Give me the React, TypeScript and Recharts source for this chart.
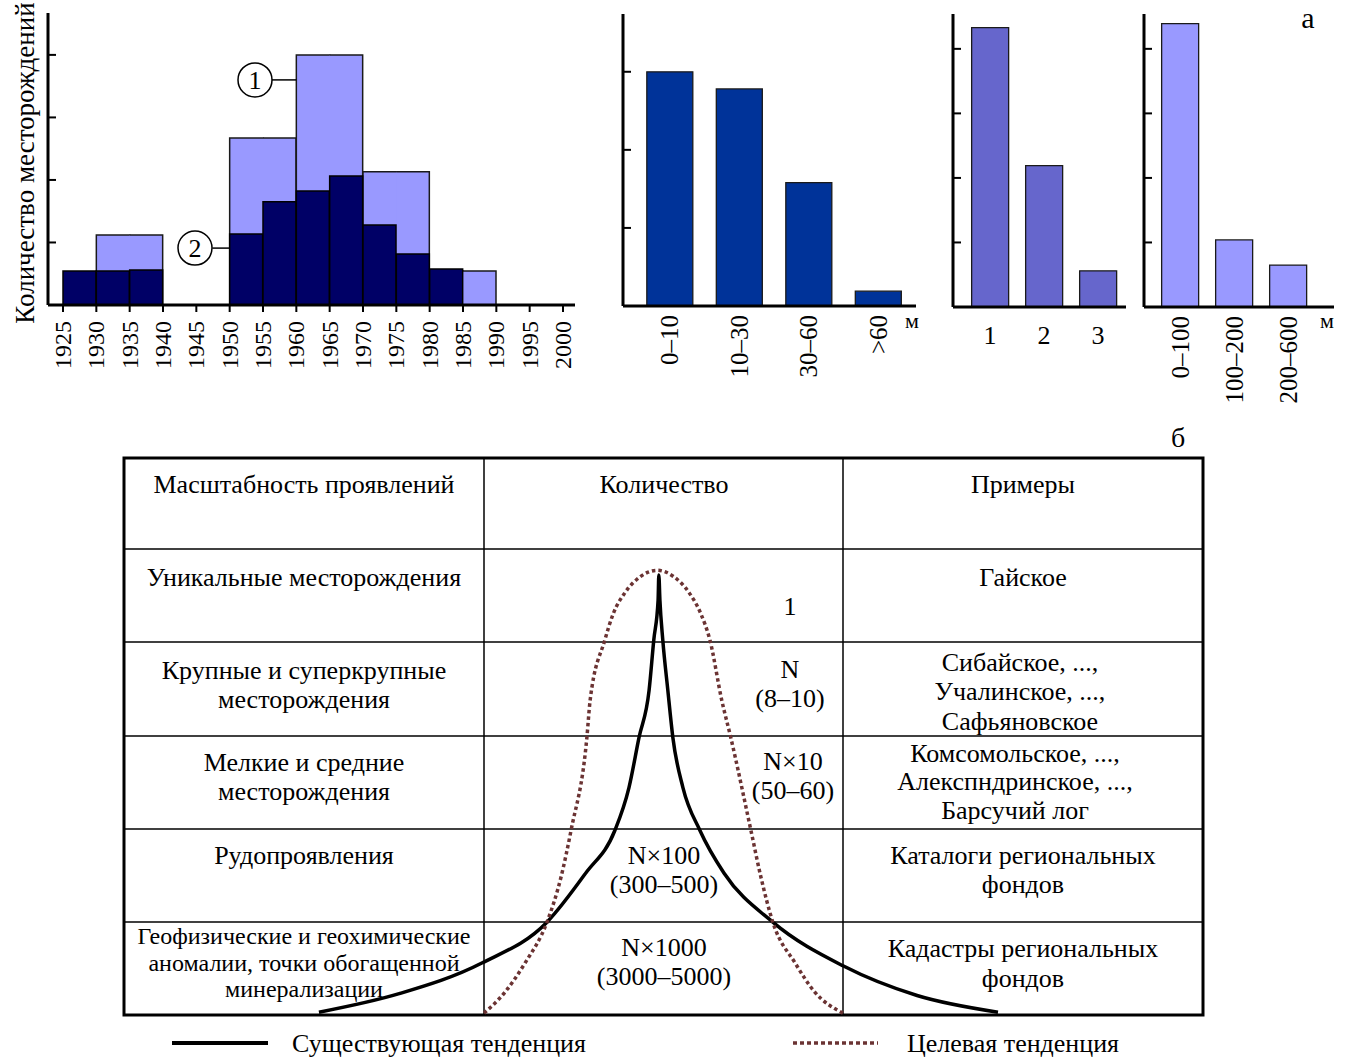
import React from 'react';
import { BarChart, Bar, XAxis, YAxis, ReferenceDot, ReferenceLine, LineChart, Line } from 'recharts';

const FONT = "'Liberation Serif', 'Times New Roman', serif";

// ---- (а) chart 1: discoveries by period ----
const binStarts = [1925, 1930, 1935, 1940, 1945, 1950, 1955, 1960, 1965, 1970, 1975, 1980, 1985, 1990, 1995];
const yearTicks = [1925, 1930, 1935, 1940, 1945, 1950, 1955, 1960, 1965, 1970, 1975, 1980, 1985, 1990, 1995, 2000];
const darkValues = [1.09, 1.09, 1.12, 0, 0, 2.27, 3.3, 3.65, 4.13, 2.56, 1.63, 1.15, 0, 0, 0];
const lightStarts = [1930, 1950, 1960, 1970, 1980];
const lightEnds = [1940, 1960, 1970, 1980, 1990];
const lightValues = [2.24, 5.34, 8.0, 4.26, 1.09];
const countTicks = [2, 4, 6, 8];
const calloutIds = ['1', '2'];
const calloutX = [1953.8, 1944.8];
const calloutY = [7.2, 1.82];
const leaderFrom = [1956.3, 1947.4];
const leaderTo = [1960, 1950];

// ---- (а) chart 2: depth ----
const depthLabels = ['0–10', '10–30', '30–60', '>60'];
const depthValues = [3.0, 2.78, 1.58, 0.19];
// ---- (а) chart 3 ----
const classLabels = ['1', '2', '3'];
const classValues = [4.33, 2.19, 0.56];
// ---- (а) chart 4 ----
const thickLabels = ['0–100', '100–200', '200–600'];
const thickValues = [4.39, 1.04, 0.65];
const smallTicks = [1, 2, 3, 4];

// ---- (б) table and trends ----
const scaleLabels = [
  ['Масштабность проявлений'],
  ['Уникальные месторождения'],
  ['Крупные и суперкрупные', 'месторождения'],
  ['Мелкие и средние', 'месторождения'],
  ['Рудопроявления'],
  ['Геофизические и геохимические', 'аномалии, точки обогащенной', 'минерализации'],
];
const countLabels = [
  ['Количество'],
  ['1'],
  ['N', '(8–10)'],
  ['N×10', '(50–60)'],
  ['N×100', '(300–500)'],
  ['N×1000', '(3000–5000)'],
];
const exampleLabels = [
  ['Примеры'],
  ['Гайское'],
  ['Сибайское, ...,', 'Учалинское, ...,', 'Сафьяновское'],
  ['Комсомольское, ...,', 'Алекспндринское, ...,', 'Барсучий лог'],
  ['Каталоги региональных', 'фондов'],
  ['Кадастры региональных', 'фондов'],
];
const legendNames = ['Существующая тенденция', 'Целевая тенденция'];
// trends in table units: x = column units (0..3), y = row units (0..6, top→bottom)
const existingX = [0.542, 0.765, 0.995, 1.176, 1.284, 1.365, 1.404, 1.432, 1.46, 1.473, 1.485, 1.487, 1.49, 1.498, 1.512, 1.526, 1.554, 1.601, 1.668, 1.804, 1.999, 2.205, 2.43];
const existingY = [5.97, 5.77, 5.44, 5.0, 4.47, 4.01, 3.55, 3.01, 2.5, 1.96, 1.53, 1.26, 1.53, 1.96, 2.5, 3.01, 3.55, 4.01, 4.47, 5.0, 5.47, 5.79, 5.97];
const targetX = [1.001, 1.06, 1.115, 1.176, 1.216, 1.243, 1.287, 1.296, 1.337, 1.36, 1.393, 1.435, 1.457, 1.482, 1.507, 1.529, 1.571, 1.604, 1.629, 1.662, 1.687, 1.743, 1.77, 1.804, 1.866, 1.92, 1.999];
const targetY = [5.98, 5.75, 5.44, 5.0, 4.5, 4.01, 3.01, 2.61, 1.96, 1.68, 1.45, 1.28, 1.23, 1.21, 1.23, 1.28, 1.45, 1.68, 1.96, 2.61, 3.01, 4.01, 4.5, 5.0, 5.44, 5.75, 5.98];

const histData = binStarts.map((start, i) => {
  const j = lightStarts.findIndex((s, k) => start >= s && start < lightEnds[k]);
  const light = j >= 0 ? lightValues[j] : 0;
  const edge = j >= 0 ? (start === lightStarts[j] ? 'L' : '') + (start + 5 === lightEnds[j] ? 'R' : '') : '';
  return { bin: String(start), start, dark: darkValues[i], light, edge };
});
const depthData = depthLabels.map((label, i) => ({ label, value: depthValues[i] }));
const classData = classLabels.map((label, i) => ({ label, value: classValues[i] }));
const thickData = thickLabels.map((label, i) => ({ label, value: thickValues[i] }));
const existingData = existingX.map((x, i) => ({ x, y: existingY[i] }));
const targetData = targetX.map((x, i) => ({ x, y: targetY[i] }));

const AXIS = { stroke: '#000', strokeWidth: 3 };

const InwardTick = (props: any) => {
  const { x, y } = props;
  return <line x1={x} y1={y} x2={x + 8} y2={y} stroke="#000" strokeWidth={2} />;
};

const rotatedTick = (fontSize: number) => (props: any) => {
  const { x, y, payload } = props;
  return (
    <text x={x} y={y} transform={`rotate(-90 ${x} ${y})`} textAnchor="end" dominantBaseline="central"
      fontSize={fontSize} fontFamily={FONT} fill="#000">{payload.value}</text>
  );
};

const flatTick = (props: any) => {
  const { x, y, payload } = props;
  return (
    <text x={x} y={y} textAnchor="middle" dominantBaseline="central" fontSize={26} fontFamily={FONT} fill="#000">
      {payload.value}
    </text>
  );
};

const LightShape = (props: any) => {
  const { x, y, width, height, payload } = props;
  if (!height || height <= 0) return null;
  const edge: string = (payload && payload.edge) || '';
  const w = edge.includes('R') ? width : width + 1;
  let d = edge.includes('L') ? `M${x},${y + height}L${x},${y}` : `M${x},${y}`;
  d += `L${x + w},${y}`;
  if (edge.includes('R')) d += `L${x + w},${y + height}`;
  return (
    <g>
      <rect x={x} y={y} width={w} height={height} fill="#9999FF" />
      <path d={d} fill="none" stroke="#1a1a1a" strokeWidth={1.5} />
    </g>
  );
};

const pos = (left: number, top: number): React.CSSProperties => ({ position: 'absolute', left, top });

const HPAD = { left: 15, right: 12 };

function HistChart() {
  return (
    <BarChart width={600} height={400} data={histData} margin={{ top: 13, right: 25, bottom: 5, left: 0 }} barCategoryGap={0} barGap={0}>
      <XAxis xAxisId="years" dataKey="start" type="number" domain={[1925, 2000]} ticks={yearTicks} interval={0}
        padding={HPAD} allowDataOverflow height={90} axisLine={AXIS}
        tickLine={{ stroke: '#000', strokeWidth: 2 }} tickSize={7} tickMargin={9} tick={rotatedTick(24)} />
      <XAxis xAxisId="binsL" dataKey="bin" type="category" hide height={0} padding={HPAD} />
      <XAxis xAxisId="binsD" dataKey="bin" type="category" hide height={0} padding={HPAD} />
      <YAxis domain={[0, 9.34]} ticks={countTicks} width={48} allowDataOverflow axisLine={AXIS}
        tickLine={false} tickSize={0} tickMargin={0} tick={InwardTick}
        label={{ value: 'Количество месторождений', angle: -90, position: 'center', dy: 4, fill: '#000', fontSize: 27, fontFamily: FONT }} />
      <Bar xAxisId="binsL" dataKey="light" shape={LightShape} isAnimationActive={false} />
      <Bar xAxisId="binsD" dataKey="dark" fill="#000066" stroke="#000" strokeWidth={1.5} isAnimationActive={false} />
      {calloutIds.map((id, i) => (
        <ReferenceLine key={'l' + id} xAxisId="years" segment={[{ x: leaderFrom[i], y: calloutY[i] }, { x: leaderTo[i], y: calloutY[i] }]}
          stroke="#000" strokeWidth={1.5} />
      ))}
      {calloutIds.map((id, i) => (
        <ReferenceDot key={'d' + id} xAxisId="years" x={calloutX[i]} y={calloutY[i]} r={17} fill="#fff" stroke="#000" strokeWidth={1.5}
          label={{ value: id, position: 'center', fill: '#000', fontSize: 26, fontFamily: FONT }} />
      ))}
    </BarChart>
  );
}

function SimpleBars(props: { data: any[]; width: number; height: number; margin: any; yDomain: number[]; yTicks: number[]; yWidth: number;
  padding: any; gap: string; fill: string; tick: any; tickMargin: number; xHeight: number }) {
  return (
    <BarChart width={props.width} height={props.height} data={props.data} margin={props.margin} barCategoryGap={props.gap}>
      <XAxis dataKey="label" interval={0} padding={props.padding} height={props.xHeight} axisLine={AXIS}
        tickLine={false} tickSize={0} tickMargin={props.tickMargin} tick={props.tick} />
      <YAxis domain={props.yDomain} ticks={props.yTicks} width={props.yWidth} allowDataOverflow axisLine={AXIS}
        tickLine={false} tickSize={0} tickMargin={0} tick={InwardTick} />
      <Bar dataKey="value" fill={props.fill} stroke="#1a1a1a" strokeWidth={1.3} isAnimationActive={false} />
    </BarChart>
  );
}

const colLeft = [124, 484, 843];
const colRight = [484, 843, 1203];
const rowLines = [458, 549, 642, 736, 829, 922, 1015];

function TableLayer() {
  const c0y = [484, 577, 670, 762, 855, 936];
  const c0lh = [29, 29, 29, 29, 29, 26.5];
  const c0fs = [26, 26, 26, 26, 26, 24];
  const c1y = [484, 606, 669, 761, 855, 947];
  const c1x = [664, 790, 790, 793, 664, 664];
  const c2y = [484, 577, 662, 753, 855, 948];
  const c2x = [1023, 1023, 1020, 1015, 1023, 1023];
  const c2lh = [29, 29, 29.5, 28.5, 29, 30];
  const txt = (lines: string[], x: number, y0: number, lh: number, fs: number, key: string) =>
    lines.map((s, k) => (
      <text key={key + k} x={x} y={y0 + k * lh} textAnchor="middle" dominantBaseline="central" fontSize={fs} fontFamily={FONT} fill="#000">{s}</text>
    ));
  return (
    <svg width={1347} height={1057} style={{ position: 'absolute', left: 0, top: 0 }}>
      {rowLines.slice(1, 6).map((y) => (
        <line key={'r' + y} x1={124} x2={1203} y1={y} y2={y} stroke="#000" strokeWidth={1.5} />
      ))}
      {[484, 843].map((x) => (
        <line key={'c' + x} x1={x} x2={x} y1={458} y2={1015} stroke="#000" strokeWidth={1.5} />
      ))}
      <rect x={124} y={458} width={1079} height={557} fill="none" stroke="#000" strokeWidth={3} />
      {scaleLabels.map((lines, r) => txt(lines, (colLeft[0] + colRight[0]) / 2, c0y[r], c0lh[r], c0fs[r], 's' + r))}
      {countLabels.map((lines, r) => txt(lines, c1x[r], c1y[r], 29, 26, 'n' + r))}
      {exampleLabels.map((lines, r) => txt(lines, c2x[r], c2y[r], c2lh[r], 26, 'e' + r))}
      <text x={1308} y={28} textAnchor="middle" fontSize={30} fontFamily={FONT} fill="#000">а</text>
      <text x={1178} y={447} textAnchor="middle" fontSize={28} fontFamily={FONT} fill="#000">б</text>
      <text x={912} y={328} textAnchor="middle" fontSize={22} fontFamily={FONT} fill="#000">м</text>
      <text x={1327} y={328} textAnchor="middle" fontSize={22} fontFamily={FONT} fill="#000">м</text>
      <line x1={172} x2={268} y1={1043} y2={1043} stroke="#000" strokeWidth={4} />
      <text x={292} y={1043} dominantBaseline="central" fontSize={26} fontFamily={FONT} fill="#000">{legendNames[0]}</text>
      <line x1={793} x2={878} y1={1043} y2={1043} stroke="#6B3333" strokeWidth={3.5} strokeDasharray="4 3" />
      <text x={907} y={1043} dominantBaseline="central" fontSize={26} fontFamily={FONT} fill="#000">{legendNames[1]}</text>
    </svg>
  );
}

function TrendChart() {
  return (
    <LineChart width={1079} height={557} margin={{ top: 0, right: 0, bottom: 0, left: 0 }}>
      <XAxis type="number" dataKey="x" domain={[0, 3]} hide allowDataOverflow />
      <YAxis type="number" domain={[0, 6]} reversed hide allowDataOverflow />
      <Line data={existingData} dataKey="y" name={legendNames[0]} type="monotoneX" stroke="#000" strokeWidth={3.5} dot={false} isAnimationActive={false} />
      <Line data={targetData} dataKey="y" name={legendNames[1]} type="monotoneX" stroke="#6B3333" strokeWidth={3.5} strokeDasharray="3.5 3" dot={false} isAnimationActive={false} />
    </LineChart>
  );
}

export default function App() {
  return (
    <div style={{ position: 'absolute', left: 0, top: 0, width: 1347, height: 1057, background: '#fff', fontFamily: FONT }}>
      <div style={pos(0, 0)}><HistChart /></div>
      <div style={pos(600, 0)}>
        <SimpleBars data={depthData} width={340} height={400} margin={{ top: 14, right: 24, bottom: 4, left: 0 }}
          yDomain={[0, 3.74]} yTicks={[1, 2, 3]} yWidth={23} padding={{ left: 12, right: 3 }} gap="17%" fill="#003399"
          tick={rotatedTick(25)} tickMargin={9} xHeight={90} />
      </div>
      <div style={pos(940, 0)}>
        <SimpleBars data={classData} width={200} height={400} margin={{ top: 14, right: 14, bottom: 3, left: 0 }}
          yDomain={[0, 4.54]} yTicks={smallTicks} yWidth={13} padding={{ left: 10, right: 1 }} gap="16%" fill="#6666CC"
          tick={flatTick} tickMargin={28} xHeight={90} />
      </div>
      <div style={pos(1140, 0)}>
        <SimpleBars data={thickData} width={207} height={420} margin={{ top: 14, right: 13, bottom: 3, left: 0 }}
          yDomain={[0, 4.54]} yTicks={smallTicks} yWidth={4} padding={{ left: 9, right: 19 }} gap="16%" fill="#9999FF"
          tick={rotatedTick(25)} tickMargin={9} xHeight={110} />
      </div>
      <TableLayer />
      <div style={pos(124, 458)}><TrendChart /></div>
    </div>
  );
}
